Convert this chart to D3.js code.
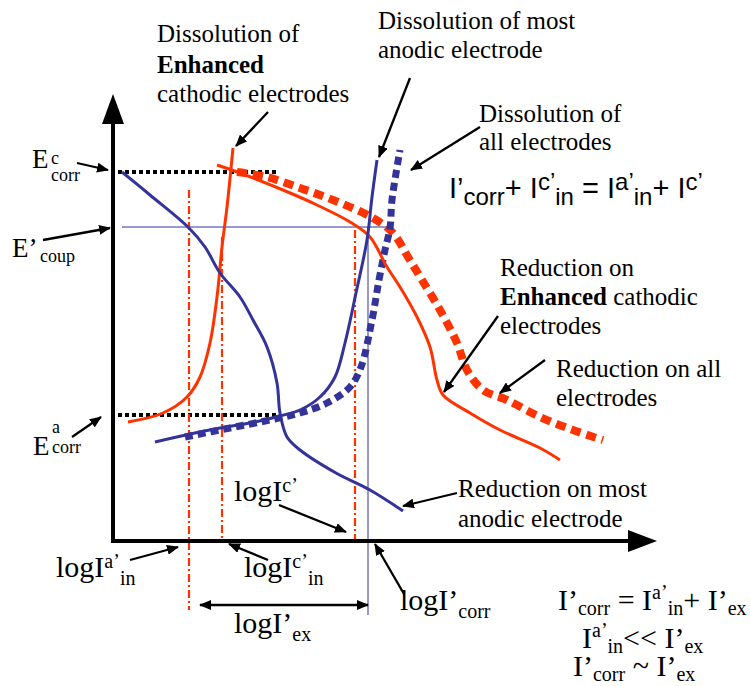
<!DOCTYPE html>
<html><head><meta charset="utf-8">
<script src="https://cdn.jsdelivr.net/npm/d3@7/dist/d3.min.js"></script>
<style>body{margin:0;background:#fff}svg{display:block}</style>
</head><body>
<svg id="c" width="750" height="686"></svg>
<script>
// ---- data (arbitrary schematic units: logI on x, E on y) ----
const blueCathodic = [[9,369],[37,346],[75,314],[92,294],[107,268],[127,244],[140,221],[154,194],[164,158],[167,128],[174,104],[187,91],[223,68],[257,51],[290,30]];
const blueAnodic = [[42,99],[77,107],[107,113],[137,118],[167,125],[187,131],[207,144],[222,164],[232,198],[243,248],[254,301],[259,344],[264,381]];
const blueAll = [[72,104],[117,113],[157,121],[187,128],[214,138],[237,154],[248,174],[259,221],[266,261],[272,291],[277,313],[279,341],[287,391]];
const redAnodic = [[15,119],[50,128],[74,144],[87,164],[97,198],[104,244],[109,294],[114,334],[120,393]];
const redCathodic = [[104,376],[127,368],[170,351],[204,336],[237,319],[257,304],[274,274],[287,254],[304,224],[317,194],[324,161],[330,146],[357,128],[387,111],[427,93],[447,81]];
const redAll = [[124,369],[154,364],[187,353],[220,341],[260,323],[280,308],[295,284],[309,261],[327,231],[344,198],[354,171],[370,151],[394,141],[427,124],[460,111],[490,101]];
const Ecorr_c = 369, Ecorr_a = 126, Ecoup = 314;
const logIcorr = 255, logIain = 76, logIcin = 109, logIc = 242;

const svg = d3.select('#c');
const x = d3.scaleLinear().domain([0,540]).range([113,653]);
const y = d3.scaleLinear().domain([0,450]).range([541,91]);
const BLUE = '#333399', RED = '#ff3300';
const SERIF = '"Liberation Serif","Times New Roman",serif';
const SANS = '"Liberation Sans",Arial,sans-serif';

const defs = svg.append('defs');
defs.append('marker').attr('id','ah').attr('viewBox','0 0 12 10').attr('refX',11).attr('refY',5)
  .attr('markerWidth',12).attr('markerHeight',10).attr('markerUnits','userSpaceOnUse').attr('orient','auto-start-reverse')
  .append('path').attr('d','M0,0 L12,5 L0,10 Z').attr('fill','#000');

const line = d3.line().x(d=>x(d[0])).y(d=>y(d[1])).curve(d3.curveCatmullRom.alpha(0.5));

// reference lines
svg.append('line').attr('x1',x(5)).attr('x2',x(165)).attr('y1',y(Ecorr_c)).attr('y2',y(Ecorr_c))
  .attr('stroke','#000').attr('stroke-width',4).attr('stroke-dasharray','4,3');
svg.append('line').attr('x1',x(5)).attr('x2',x(165)).attr('y1',y(Ecorr_a)).attr('y2',y(Ecorr_a))
  .attr('stroke','#000').attr('stroke-width',4).attr('stroke-dasharray','4,3');
svg.append('line').attr('x1',x(9)).attr('x2',x(279)).attr('y1',y(Ecoup)).attr('y2',y(Ecoup))
  .attr('stroke',BLUE).attr('stroke-width',1);
svg.append('line').attr('x1',x(logIcorr)).attr('x2',x(logIcorr)).attr('y1',y(Ecoup)).attr('y2',y(-74))
  .attr('stroke',BLUE).attr('stroke-width',1);
[[logIain,351,-69],[logIcin,304,0],[logIc,311,-3]].forEach(d=>{
  svg.append('line').attr('x1',x(d[0])).attr('x2',x(d[0])).attr('y1',y(d[1])).attr('y2',y(d[2]))
    .attr('stroke',RED).attr('stroke-width',2.2).attr('stroke-dasharray','8,3,2,3');
});

// curves
svg.append('path').attr('d',line(redAll)).attr('fill','none').attr('stroke',RED).attr('stroke-width',8).attr('stroke-dasharray','10,6');
svg.append('path').attr('d',line(blueAll)).attr('fill','none').attr('stroke',BLUE).attr('stroke-width',7).attr('stroke-dasharray','8,5');
svg.append('path').attr('d',line(redAnodic)).attr('fill','none').attr('stroke',RED).attr('stroke-width',3);
svg.append('path').attr('d',line(redCathodic)).attr('fill','none').attr('stroke',RED).attr('stroke-width',3);
svg.append('path').attr('d',line(blueCathodic)).attr('fill','none').attr('stroke',BLUE).attr('stroke-width',3);
svg.append('path').attr('d',line(blueAnodic)).attr('fill','none').attr('stroke',BLUE).attr('stroke-width',3);

// axes
svg.append('line').attr('x1',113).attr('y1',543).attr('x2',113).attr('y2',122).attr('stroke','#000').attr('stroke-width',4);
svg.append('path').attr('d','M113,94 L124,124 L102,124 Z').attr('fill','#000');
svg.append('line').attr('x1',111).attr('y1',541).attr('x2',630).attr('y2',541).attr('stroke','#000').attr('stroke-width',4);
svg.append('path').attr('d','M657,541 L628,530 L628,552 Z').attr('fill','#000');

// double arrow
svg.append('line').attr('x1',x(87)).attr('x2',x(255)).attr('y1',y(-64)).attr('y2',y(-64))
  .attr('stroke','#000').attr('stroke-width',2.5).attr('marker-start','url(#ah)').attr('marker-end','url(#ah)');

// annotation arrows (pixel)
const arrows = [
  [77,163,108,170],[43,240,110,228],[72,437,101,417],
  [268,112,236,146],[410,78,379,157],[480,127,411,170],
  [498,316,444,392],[545,360,500,393],[457,493,403,506],
  [279,505,346,532],[130,560,178,547],[268,560,229,544],[404,594,375,544]
];
arrows.forEach(a=>svg.append('line').attr('x1',a[0]).attr('y1',a[1]).attr('x2',a[2]).attr('y2',a[3])
  .attr('stroke','#000').attr('stroke-width',2.3).attr('marker-end','url(#ah)'));

// rich text helper
function rich(px, py, segs, o){
  o = Object.assign({size:25, fam:SERIF, small:18, sup:-8, sub:6}, o||{});
  const t = svg.append('text').attr('x',px).attr('y',py).attr('font-family',o.fam).attr('font-size',o.size).attr('fill','#000');
  let off = 0;
  segs.forEach(s=>{
    const [txt, kind, bold] = s;
    const sz = kind ? o.small : o.size;
    const target = kind==='sup' ? o.sup : kind==='sub' ? o.sub : 0;
    const ts = t.append('tspan').attr('dy', target-off).attr('font-size',sz).text(txt);
    if(bold) ts.attr('font-weight','bold');
    off = target;
  });
  return t;
}
const T = (px,py,str,size,bold)=>rich(px,py,[[str,'',bold]],{size:size||25});

T(157,42,'Dissolution of'); T(157,73,'Enhanced',25,true); T(157,102,'cathodic electrodes');
T(378,29,'Dissolution of most'); T(378,58,'anodic electrode');
T(479,122,'Dissolution of'); T(479,150,'all electrodes');
T(500,276,'Reduction on');
rich(500,305,[['Enhanced','',true],[' cathodic','']]);
T(500,334,'electrodes');
T(556,377,'Reduction on all'); T(556,406,'electrodes');
T(458,497,'Reduction on most'); T(458,527,'anodic electrode');

// equation (sans)
rich(449,198,[['I’',''],['corr','sub'],['+ I',''],['c’','sup'],['in','sub'],[' = I',''],['a’','sup'],['in','sub'],['+ I',''],['c’','sup']],
  {size:29, fam:SANS, small:24, sup:-8, sub:7});

// y labels (stacked sup/sub)
T(32,168,'E',27); T(51,164,'c',18); T(51,181,'corr',18);
T(12,257,'E’',27); T(40,262,'coup',18);
T(33,455,'E',27); T(52,433,'a',18); T(52,453,'corr',18);

// x labels
const XL = {size:30, small:20, sup:-9, sub:8};
rich(234,501,[['logI',''],['c’','sup']],XL);
rich(56,577,[['logI',''],['a’','sup'],['in','sub']],XL);
rich(244,577,[['logI',''],['c’','sup'],['in','sub']],XL);
rich(400,610,[['logI’',''],['corr','sub']],XL);
rich(234,633,[['logI’',''],['ex','sub']],XL);

// bottom right equations
const BR = {size:30, small:20, sup:-11, sub:5};
rich(558,610,[['I’',''],['corr','sub'],[' = I',''],['a’','sup'],['in','sub'],['+ I’',''],['ex','sub']],BR);
rich(582,648,[['I',''],['a’','sup'],['in','sub'],['<< I’',''],['ex','sub']],BR);
rich(573,676,[['I’',''],['corr','sub'],[' ~ I’',''],['ex','sub']],BR);
</script>
</body></html>
